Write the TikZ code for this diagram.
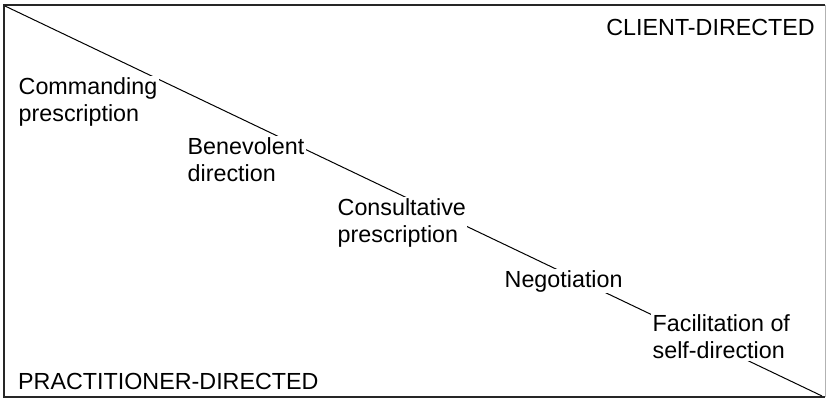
\documentclass[tikz,border=0pt]{standalone}
\usepackage{fontspec}
\setmainfont{Liberation Sans}
\begin{document}
\begin{tikzpicture}[x=1pt,y=-1pt]
  \tikzstyle{etiquette}=[fill=white, align=left, inner sep=1.5pt, text=black,
  font=\fontsize{23.3}{27}\selectfont]
  \tikzstyle{titre}=[inner sep=2pt, text=black, font=\fontsize{23.3}{27}\selectfont]
  \tikzstyle{cadre}=[line width=1.1pt, draw=black!85]
  \useasboundingbox (0,0) rectangle (826,401);
  \draw[cadre] (825,5) -- (4,5) -- (4,397) -- (825,397);
  \draw[line width=0.6pt, draw=black!30] (825,5) -- (825,397);
  \coordinate (haut) at (5,6);
  \coordinate (bas) at (822,396);
  \draw[line width=1pt] (haut) -- (bas);
  \foreach \n/\x/\y/\t in {cmd/17/102/{Commanding\\prescription},
    bene/186/160/{Benevolent\\direction},
    cons/336/223/{Consultative\\prescription},
    nego/503/281/{Negotiation},
    fac/651/337/{Facilitation of\\self-direction}} {
    \node[etiquette, anchor=west] (\n) at (\x,\y) {\t};
  }
  \node[titre, anchor=east] (client) at (817,27) {CLIENT-DIRECTED};
  \node[titre, anchor=west] (prat) at (16,381) {PRACTITIONER-DIRECTED};
\end{tikzpicture}
\end{document}
